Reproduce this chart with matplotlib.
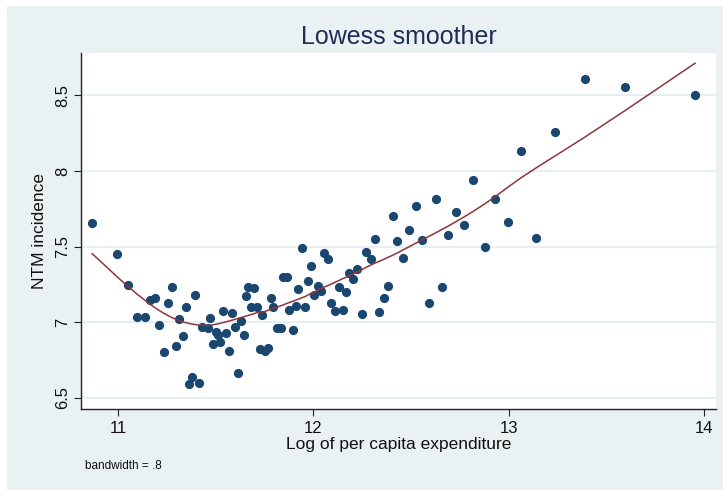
"""Lowess smoother: NTM incidence vs log of per capita expenditure."""

import numpy as np
import matplotlib
matplotlib.use("Agg")
import matplotlib.pyplot as plt
import matplotlib.patches as patches

# --- veri (gorselden okundu) ---
log_exp = [10.868, 10.996, 11.053, 11.099, 11.137, 11.164, 11.191, 11.211, 11.236, 11.256,
           11.278, 11.297, 11.314, 11.333, 11.348, 11.365, 11.380, 11.396, 11.413, 11.430,
           11.459, 11.473, 11.485, 11.502, 11.512, 11.524, 11.539, 11.554, 11.568, 11.584,
           11.601, 11.614, 11.628, 11.644, 11.655, 11.667, 11.682, 11.695, 11.713, 11.725,
           11.739, 11.754, 11.768, 11.782, 11.795, 11.812, 11.834, 11.847, 11.865, 11.877,
           11.894, 11.910, 11.923, 11.940, 11.957, 11.973, 11.990, 12.005, 12.022, 12.039,
           12.056, 12.075, 12.092, 12.111, 12.130, 12.150, 12.166, 12.184, 12.205, 12.225,
           12.248, 12.270, 12.294, 12.316, 12.335, 12.362, 12.384, 12.406, 12.430, 12.458,
           12.491, 12.527, 12.558, 12.594, 12.626, 12.659, 12.689, 12.732, 12.773, 12.817,
           12.877, 12.929, 12.997, 13.065, 13.140, 13.239, 13.389, 13.596, 13.954]
ntm = [7.654, 7.451, 7.249, 7.035, 7.033, 7.149, 7.161, 6.984, 6.806, 7.128,
       7.233, 6.845, 7.024, 6.911, 7.103, 6.590, 6.640, 7.178, 6.601, 6.971,
       6.960, 7.030, 6.857, 6.938, 6.916, 6.868, 7.075, 6.927, 6.810, 7.063,
       6.971, 6.667, 7.011, 6.916, 7.172, 7.233, 7.099, 7.227, 7.099, 6.822,
       7.050, 6.812, 6.832, 7.161, 7.103, 6.962, 6.962, 7.301, 7.301, 7.083,
       6.947, 7.108, 7.218, 7.489, 7.101, 7.273, 7.372, 7.178, 7.242, 7.207,
       7.458, 7.420, 7.128, 7.075, 7.231, 7.079, 7.198, 7.326, 7.286, 7.352,
       7.057, 7.465, 7.416, 7.553, 7.070, 7.161, 7.238, 7.701, 7.537, 7.423,
       7.612, 7.769, 7.544, 7.128, 7.817, 7.235, 7.579, 7.729, 7.645, 7.939,
       7.496, 7.815, 7.661, 8.132, 7.557, 8.258, 8.606, 8.553, 8.500]

x_ticks = [11, 12, 13, 14]
y_ticks = [6.5, 7, 7.5, 8, 8.5]
y_tick_labels = ['6.5', '7', '7.5', '8', '8.5']
bandwidth = 0.8


def lowess(x, y, bw):
    """Stata tarzi lowess: tricube agirlikli yerel dogru, robust iterasyon yok."""
    x = np.asarray(x, float)
    y = np.asarray(y, float)
    order = np.argsort(x)
    x, y = x[order], y[order]
    n = len(x)
    k = int((n * bw - 0.5) / 2)
    fit = np.empty(n)
    for i in range(n):
        lo, hi = max(0, i - k), min(n - 1, i + k)
        xs, ys = x[lo:hi + 1], y[lo:hi + 1]
        delta = 1.0001 * max(x[hi] - x[i], x[i] - x[lo])
        w = (1 - (np.abs(xs - x[i]) / delta) ** 3) ** 3
        xm = np.sum(w * xs) / np.sum(w)
        ym = np.sum(w * ys) / np.sum(w)
        b = np.sum(w * (xs - xm) * (ys - ym)) / np.sum(w * (xs - xm) ** 2)
        fit[i] = ym + b * (x[i] - xm)
    return x, fit


bg = '#EAF1F3'
navy = '#1A476F'
maroon = '#90353B'
grid_c = '#E6EFF1'

plt.rcParams['font.family'] = ['Liberation Sans', 'DejaVu Sans']

fig = plt.figure(figsize=(7.23, 4.9), dpi=100)
fig.patch.set_facecolor('white')
fig.patches.append(patches.Rectangle((7 / 723, 0), 1, 484 / 490, transform=fig.transFigure,
                                     facecolor=bg, edgecolor='none', zorder=-5))

ax = fig.add_axes([81 / 723, 1 - 409 / 490, (716 - 81) / 723, (409 - 52.7) / 490])
ax.set_zorder(2)
ax.set_facecolor('white')

ax.scatter(log_exp, ntm, s=44, color=navy, linewidths=0, zorder=3)
xs, ys = lowess(log_exp, ntm, bandwidth)
ax.plot(xs, ys, '-', color=maroon, linewidth=1.1, zorder=4)

ax.set_xlim(10.8106, 14.0615)
ax.set_ylim(6.427, 8.782)
ax.set_xticks(x_ticks)
ax.set_yticks(y_ticks)
ax.set_yticklabels(y_tick_labels, rotation=90, va='center')
ax.tick_params(axis='both', direction='out', length=5, width=0.8, color='#222222',
               labelsize=12, labelcolor='#111111')
ax.tick_params(axis='y', pad=3)
ax.yaxis.grid(True, color=grid_c, linewidth=1.5)
ax.set_axisbelow(True)
for side in ['top', 'right']:
    ax.spines[side].set_visible(False)
for side in ['left', 'bottom']:
    ax.spines[side].set_color('#222222')
    ax.spines[side].set_linewidth(1.0)

ax.set_xlabel('Log of per capita expenditure', fontsize=12.5, color='#111111', labelpad=1)
ax.set_ylabel('NTM incidence', fontsize=12.5, color='#111111', labelpad=6)
fig.text(0.552, 1 - 37 / 490, 'Lowess smoother', ha='center', va='center',
         fontsize=18, color='#1F2D55')
fig.text(85 / 723, 1 - 466 / 490, 'bandwidth = .8', ha='left', va='center',
         fontsize=8.5, color='#111111')

fig.savefig('out.png', dpi=100, facecolor=fig.get_facecolor())
